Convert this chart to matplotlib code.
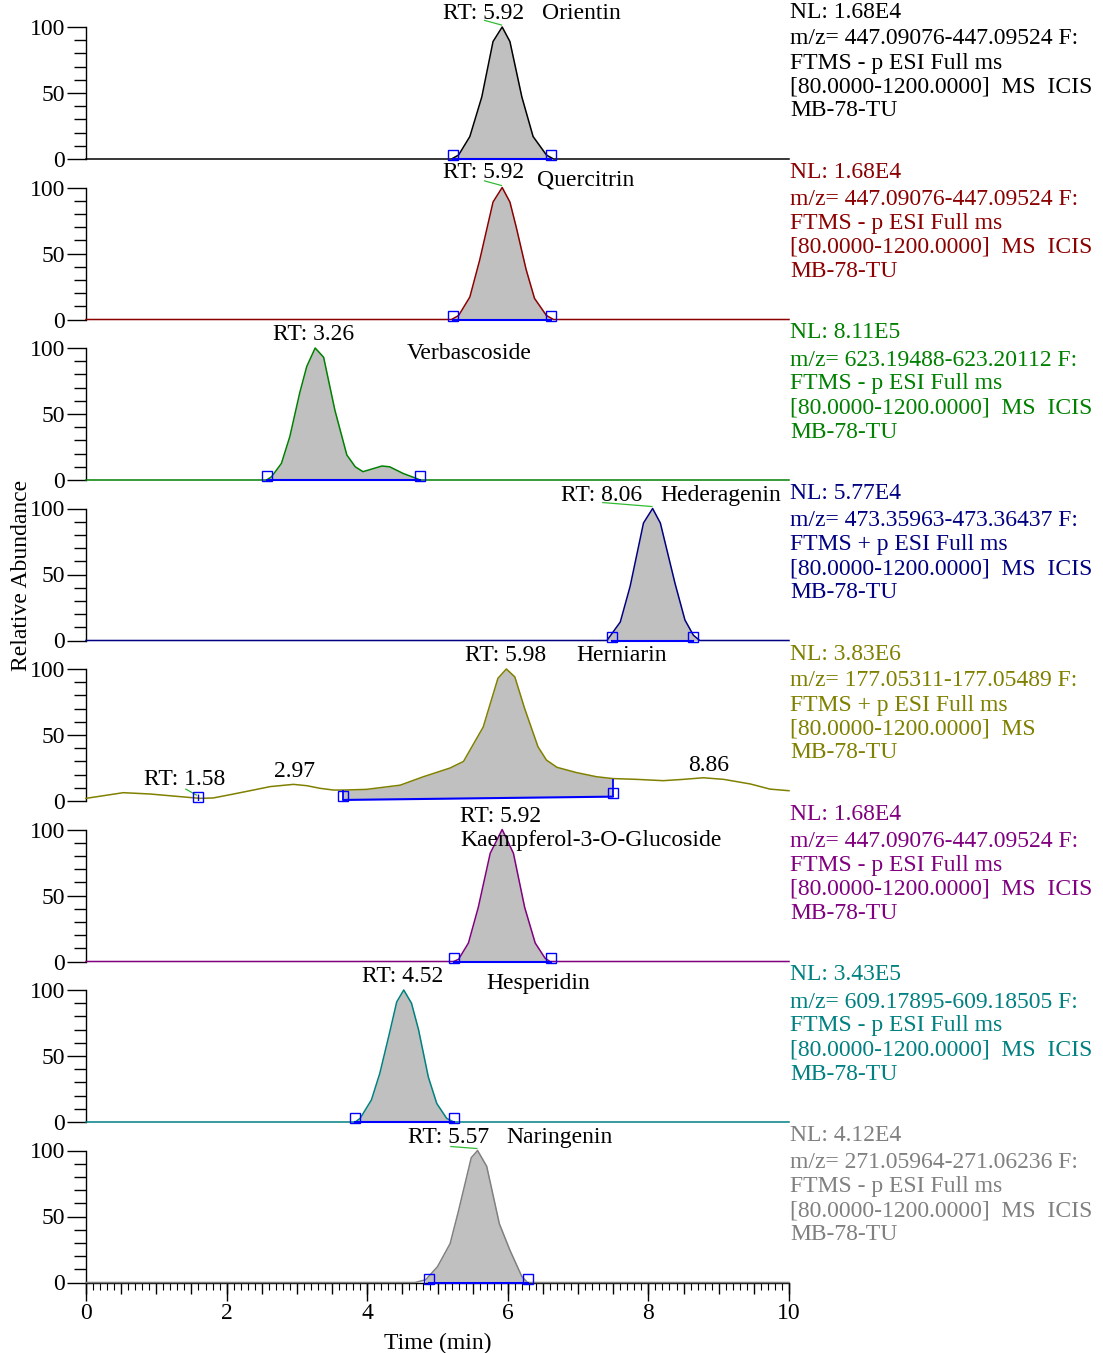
import matplotlib
matplotlib.use("Agg")
import matplotlib.pyplot as plt
from matplotlib.ticker import MultipleLocator, NullFormatter
import numpy as np

plt.rcParams['font.family'] = ['Liberation Serif', 'DejaVu Serif']

W, H = 1103, 1353

# ---- data (time in min, relative abundance) ----
names = ['Orientin', 'Quercitrin', 'Verbascoside', 'Hederagenin',
         'Herniarin', 'Kaempferol-3-O-Glucoside', 'Hesperidin', 'Naringenin']
rts = [5.92, 5.92, 3.26, 8.06, 5.98, 5.92, 4.52, 5.57]
colors = ['#000000', '#8b0000', '#008000', '#000080',
          '#808000', '#800080', '#008080', '#808080']

orientin_t = [0, 5.20, 5.30, 5.46, 5.63, 5.79, 5.92, 6.03, 6.20, 6.36, 6.55, 6.65, 10]
orientin_i = [0, 0, 3, 17, 47, 89, 100, 89, 47, 17, 3, 0, 0]

quercitrin_t = [0, 5.20, 5.30, 5.46, 5.60, 5.79, 5.92, 6.03, 6.12, 6.26, 6.38, 6.55, 6.65, 10]
quercitrin_i = [0, 0, 3, 17, 45, 89, 100, 89, 70, 38, 16, 3, 0, 0]

verbascoside_t = [0, 2.57, 2.64, 2.78, 2.90, 3.04, 3.14, 3.26, 3.38, 3.54, 3.71,
                  3.83, 3.94, 4.21, 4.32, 4.51, 4.70, 4.75, 10]
verbascoside_i = [0, 0, 2.5, 12.6, 33, 66, 86, 100, 93, 53, 19,
                  10, 6.3, 10.6, 10, 5, 1.2, 0, 0]

hederagenin_t = [0, 7.41, 7.60, 7.74, 7.93, 8.06, 8.17, 8.38, 8.52, 8.64, 8.73, 10]
hederagenin_i = [0, 0, 14, 41, 89, 100, 89, 43, 15.5, 4, 0, 0]

herniarin_t = [0, 0.53, 0.91, 1.34, 1.62, 1.81, 2.10, 2.38, 2.62, 2.95, 3.14, 3.33,
               3.52, 3.66, 3.99, 4.47, 4.80, 5.18, 5.37, 5.65, 5.86, 5.98, 6.10,
               6.24, 6.43, 6.55, 6.70, 6.98, 7.26, 7.49, 7.83, 8.21, 8.50, 8.78,
               9.07, 9.45, 9.73, 10.0]
herniarin_i = [2, 6.3, 5.3, 3.3, 2, 2.3, 5.3, 8.3, 10.9, 12.6, 11.6, 9.6,
               8.3, 8.3, 8.8, 12, 18.4, 25, 30, 56, 93, 100, 94,
               70, 41, 31, 25.5, 21.5, 18.4, 17, 16.4, 15.4, 16.4, 17.6,
               16.4, 12.9, 9, 7.8]

kaempferol_t = [0, 5.23, 5.30, 5.44, 5.58, 5.75, 5.92, 6.08, 6.24, 6.39, 6.53, 6.60, 10]
kaempferol_i = [0, 0, 1.7, 14, 41, 82, 100, 82, 41, 14, 2.5, 0, 0]

hesperidin_t = [0, 3.83, 3.90, 4.06, 4.18, 4.32, 4.42, 4.52, 4.63, 4.73, 4.87,
                4.99, 5.13, 5.23, 10]
hesperidin_i = [0, 0, 2.8, 16.7, 37, 68, 91, 100, 90, 70, 34, 14, 2.8, 0, 0]

naringenin_t = [0, 4.68, 4.83, 5.00, 5.18, 5.30, 5.48, 5.57, 5.70, 5.88, 6.03, 6.20, 6.28, 10]
naringenin_i = [0, 0, 2, 12, 29.5, 54.5, 94.5, 100, 88, 44.5, 24.5, 4.5, 0, 0]

traces = [(orientin_t, orientin_i), (quercitrin_t, quercitrin_i),
          (verbascoside_t, verbascoside_i), (hederagenin_t, hederagenin_i),
          (herniarin_t, herniarin_i), (kaempferol_t, kaempferol_i),
          (hesperidin_t, hesperidin_i), (naringenin_t, naringenin_i)]

# integration start / end (blue squares) and baseline level there
peak_start = [5.22, 5.22, 2.57, 7.48, 3.66, 5.23, 3.83, 4.88]
peak_end = [6.61, 6.61, 4.75, 8.64, 7.49, 6.61, 5.23, 6.29]
base_start = [0, 0, 0, 0, 0.8, 0, 0, 0]
base_end = [0, 0, 0, 0, 3.3, 0, 0, 0]

nl_values = ['1.68E4', '1.68E4', '8.11E5', '5.77E4', '3.83E6', '1.68E4', '3.43E5', '4.12E4']
mz_ranges = ['447.09076-447.09524', '447.09076-447.09524', '623.19488-623.20112',
             '473.35963-473.36437', '177.05311-177.05489', '447.09076-447.09524',
             '609.17895-609.18505', '271.05964-271.06236']
polarity = ['-', '-', '-', '+', '+', '-', '-', '-']
scan_tail = ['MS  ICIS', 'MS  ICIS', 'MS  ICIS', 'MS  ICIS', 'MS',
             'MS  ICIS', 'MS  ICIS', 'MS  ICIS']

# label placement (time, abundance) for RT and compound labels
rt_label_pos = [(5.66, 110), (5.66, 111), (3.24, 110.5), (7.33, 110),
                (5.97, 110.5), (5.90, 110), (4.51, 110.5), (5.16, 109.5)]
name_label_pos = [(7.04, 110), (7.11, 105.5), (5.45, 95.5), (9.03, 109.5),
                  (7.62, 110), (5.33, 91.3), (6.43, 105), (6.74, 109.5)]
name_ha = ['center', 'center', 'center', 'center', 'center', 'left', 'center', 'center']
# green connector from label to apex (start time, start abundance)
connector = [(5.67, 105), (5.67, 105), None, (7.35, 104.5), None, None, None, (5.19, 103)]

# herniarin minor labels
extra_labels = [('RT: 1.58', 1.41, 16), ('2.97', 2.96, 22), ('8.86', 8.86, 27)]

FS = 17
BLUE = '#0000ff'

fig = plt.figure(figsize=(W / 100, H / 100), dpi=100)

for k in range(8):
    y0 = 159 + 160.5 * k
    ax = fig.add_axes([86 / W, 1 - y0 / H, 703 / W, 132 / H])
    ax.set_xlim(0, 10)
    ax.set_ylim(0, 100)
    ax.patch.set_alpha(0)
    t = np.array(traces[k][0])
    y = np.array(traces[k][1])
    col = colors[k]

    # shaded peak area above the integration baseline
    a, b = peak_start[k], peak_end[k]
    base = np.interp(t, [a, b], [base_start[k], base_end[k]])
    ax.fill_between(t, y, base, where=(t >= a - 0.12) & (t <= b + 0.12),
                    color='#c0c0c0', lw=0, zorder=1, clip_on=False)
    ax.plot(t, y, color=col, lw=1.1, zorder=3, clip_on=False)

    # integration baseline + markers
    ax.plot([a, b], [base_start[k], base_end[k]], color=BLUE, lw=1.5, zorder=4, clip_on=False)
    ax.plot([a, b], [base_start[k] + 2.8, base_end[k] + 2.8], ls='none', marker='s',
            ms=7.5, mfc='none', mec=BLUE, mew=1.0, zorder=5, clip_on=False)

    if k == 4:
        ax.vlines([3.66, 7.49], [0.8, 3.3], [8.3, 17], color=BLUE, lw=1.3, zorder=4)
        ax.plot([1.59], [2.8], ls='none', marker='s', ms=7.5, mfc='none', mec=BLUE,
                mew=1.0, zorder=5, clip_on=False)
        ax.vlines([1.59], [0], [5], color=BLUE, lw=1.0, zorder=4)
        ax.plot([1.42, 1.57], [9, 4.5], color='#33bb33', lw=0.9, zorder=4)
        for txt, tx, ty in extra_labels:
            ax.text(tx, ty, txt, fontsize=FS, ha='center', va='center')

    # labels
    rx, ry = rt_label_pos[k]
    ax.text(rx, ry, 'RT: %.2f' % rts[k], fontsize=FS, ha='center', va='center', clip_on=False)
    nx, ny = name_label_pos[k]
    ax.text(nx, ny, names[k], fontsize=FS, ha=name_ha[k], va='center', clip_on=False)
    if connector[k] is not None:
        cx, cy = connector[k]
        ax.plot([cx, rts[k] - 0.01], [cy, 101.5], color='#33bb33', lw=0.9,
                zorder=4, clip_on=False)

    # axes styling
    for s in ['top', 'right']:
        ax.spines[s].set_visible(False)
    ax.spines['left'].set_bounds(0, 100)
    ax.spines['left'].set_linewidth(1.0)
    ax.set_yticks([0, 50, 100])
    ax.yaxis.set_minor_locator(MultipleLocator(10))
    ax.tick_params(axis='y', which='major', direction='out', length=14, width=1,
                   labelsize=FS, pad=1)
    ax.tick_params(axis='y', which='minor', direction='out', length=9, width=1)

    if k < 7:
        ax.spines['bottom'].set_visible(False)
        ax.set_xticks([])
    else:
        ax.spines['bottom'].set_linewidth(1.0)
        ax.xaxis.set_major_locator(MultipleLocator(0.5))
        ax.xaxis.set_major_formatter(NullFormatter())
        ax.xaxis.set_minor_locator(MultipleLocator(0.1))
        ax.tick_params(axis='x', which='major', direction='out', length=8, width=1)
        ax.tick_params(axis='x', which='minor', direction='out', length=5, width=0.8)
        sec = ax.secondary_xaxis('bottom')
        sec.set_xticks(range(0, 11, 2))
        sec.tick_params(axis='x', direction='out', length=13, width=1, labelsize=FS, pad=2)
        sec.spines['bottom'].set_visible(False)
        ax.set_xlabel('Time (min)', fontsize=FS, labelpad=25)

    # scan header text on the right
    lines = ['NL: ' + nl_values[k],
             'm/z= ' + mz_ranges[k] + ' F:',
             'FTMS ' + polarity[k] + ' p ESI Full ms',
             '[80.0000-1200.0000]  ' + scan_tail[k],
             'MB-78-TU']
    for j, ly in enumerate([12, 39, 63, 87, 111]):
        fig.text(790 / W, 1 - (ly + 160.5 * k) / H, lines[j], color=col,
                 fontsize=FS, ha='left', va='center')

fig.text(22 / W, 1 - 575 / H, 'Relative Abundance', rotation=90, fontsize=FS,
         ha='center', va='center')

fig.savefig('out.png', dpi=100)
